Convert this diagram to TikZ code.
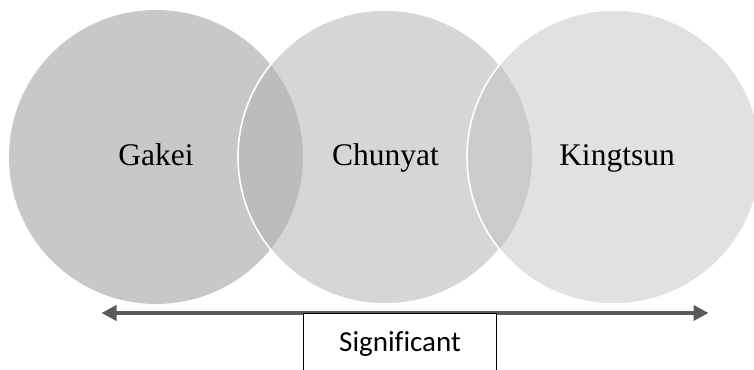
\documentclass[tikz,border=0pt]{standalone}
\usepackage{fontspec}
\newfontfamily\labelserif{Liberation Serif}
\newfontfamily\labelsans[Ligatures=NoCommon]{Carlito}
\usetikzlibrary{arrows.meta}
\definecolor{circA}{HTML}{C8C8C8}
\definecolor{circB}{HTML}{D6D6D6}
\definecolor{circC}{HTML}{E1E1E1}
\definecolor{lapAB}{HTML}{BCBCBC}
\definecolor{lapBC}{HTML}{CBCBCB}
\definecolor{axisgray}{HTML}{595959}
\tikzset{
  circlabel/.style={font=\labelserif\fontsize{31.5}{36}\selectfont, anchor=base, text=black, inner sep=0pt},
  rim/.style={draw=white, line width=1.6pt},
  axis/.style={draw=axisgray, line width=3.6pt, {Triangle[length=15pt,width=15pt]}-{Triangle[length=15pt,width=15pt]}},
  tagbox/.style={draw=black, line width=1pt, fill=white, minimum width=192.7pt, minimum height=70pt, anchor=north, inner sep=0pt}
}
\begin{document}
\begin{tikzpicture}[x=1pt,y=1pt]
  \useasboundingbox (0,0) rectangle (754,369);
  \clip (0,0) rectangle (754,369);
  \def\rad{147}
  % three overlapping circles
  \fill[circA] (156,212) circle (\rad);
  \fill[circB] (385,212) circle (\rad);
  \begin{scope}
    \clip (156,212) circle (\rad);
    \fill[lapAB] (385,212) circle (\rad);
  \end{scope}
  \draw[rim] (385,212) circle (\rad);
  \fill[circC] (614,212) circle (\rad);
  \begin{scope}
    \clip (385,212) circle (\rad);
    \fill[lapBC] (614,212) circle (\rad);
  \end{scope}
  \draw[rim] (614,212) circle (\rad);
  % circle labels
  \node[circlabel] (gakei) at (156,203.5) {Gakei};
  \node[circlabel] (chunyat) at (385.5,203.5) {Chunyat};
  \node[circlabel] (kingtsun) at (617,203.5) {Kingtsun};
  % double-headed axis with label box
  \coordinate (axisL) at (101.5,56);
  \coordinate (axisR) at (708.5,56);
  \draw[axis] (axisL) -- (axisR);
  \node[tagbox] (tag) at (400.3,56) {};
  \node[font=\labelsans\fontsize{29}{34}\selectfont, anchor=base, inner sep=0pt] (sig) at (400,17.3) {Significant};
\end{tikzpicture}
\end{document}
